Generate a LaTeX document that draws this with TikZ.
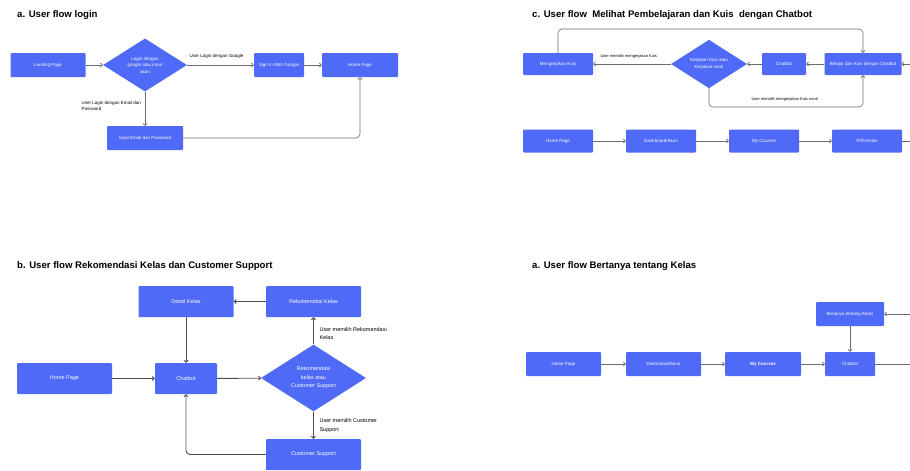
\documentclass[tikz,border=0pt]{standalone}
\usepackage{fontspec}
\setmainfont{Liberation Sans}
\usetikzlibrary{shapes.geometric, arrows.meta}
\definecolor{flowblue}{RGB}{78,106,246}

\begin{document}
\begin{tikzpicture}[x=1pt, y=-1pt,
	box/.style={fill=flowblue, rounded corners=1pt, text=white, inner sep=0pt, align=center, font=\fontsize{4.5}{5.5}\selectfont},
	choice/.style={diamond, fill=flowblue, text=white, inner sep=0pt, align=center, font=\fontsize{4.5}{6.5}\selectfont},
	link/.style={draw=gray!85!black, line width=0.6pt, -{Straight Barb[length=2pt,width=4pt]}},
	boldlink/.style={link, draw=gray!60!black, line width=0.9pt},
	note/.style={anchor=west, align=left, font=\fontsize{4.5}{6}\selectfont},
	heading/.style={anchor=west, inner sep=0pt, font=\bfseries\fontsize{9.6}{11}\selectfont}]
	\useasboundingbox (0,0) rectangle (910,471);

	% a. login
	\node[heading] (titleA) at (17,15) {a. User flow login};
	\node[box, minimum width=75pt, minimum height=24pt] (landing) at (48,65) {Landing Page};
	\node[choice, minimum width=84pt, minimum height=53pt] (login) at (145,65) {Login dengan\\google atau input\\akun};
	\node[box, minimum width=50pt, minimum height=24pt] (google) at (279,65) {Sign In With Google};
	\node[box, minimum width=76pt, minimum height=24pt] (homeA) at (360,65) {Home Page};
	\node[box, minimum width=76pt, minimum height=24pt] (email) at (145,138) {Input Email dan Password};
	\node[note] (noteGoogle) at (186,56) {User Login dengan Google};
	\node[note] (noteEmail) at (78,106) {User Login dengan Email dan\\Password};

	\draw[link] (landing) -- (login);
	\draw[link] (login) -- (google);
	\draw[link] (google) -- (homeA);
	\draw[link] (login) -- (email);
	\draw[link, rounded corners=4pt] (email) -- (360,138) -- (homeA);

	% c. pembelajaran dan kuis
	\node[heading] (titleC) at (532,15) {c. User flow \ Melihat Pembelajaran dan Kuis \ dengan Chatbot};
	\node[box, minimum width=70pt, minimum height=22pt] (quiz) at (558,64) {Mengerjakan Kuis};
	\node[choice, minimum width=76pt, minimum height=47pt] (later) at (709,64) {Kerjakan Kuis atau\\Kerjakan nanti};
	\node[box, minimum width=44pt, minimum height=22pt] (chatC) at (784,64) {Chatbot};
	\node[box, minimum width=77pt, minimum height=22pt] (learn) at (863,64) {Belajar dan Kuis dengan Chatbot};
	\coordinate (inC) at (910,64);
	\node[note, font=\fontsize{4}{5}\selectfont] (noteNow) at (597,56) {User memilih mengerjakan Kuis};
	\node[note, font=\fontsize{4}{5}\selectfont] (noteLater) at (748,99) {User memilih mengerjakan Kuis nanti};

	\draw[link] (inC) -- (learn);
	\draw[link] (learn) -- (chatC);
	\draw[link] (chatC) -- (later);
	\draw[link] (later) -- (quiz);
	\draw[link, rounded corners=4pt] (quiz.north) -- (558,29) -- (863,29) -- (learn.north);
	\draw[link, rounded corners=4pt] (later.south) -- (709,107) -- (863,107) -- (learn.south);

	\node[box, minimum width=70pt, minimum height=23pt] (homeC) at (558,141) {Home Page};
	\node[box, minimum width=70pt, minimum height=23pt] (dashC) at (661,141) {Dashboard/Akun};
	\node[box, minimum width=70pt, minimum height=23pt] (coursesC) at (764,141) {My Courses};
	\node[box, minimum width=70pt, minimum height=23pt] (pickC) at (867,141) {Pilih Kelas};
	\coordinate (outC) at (910,141);

	\draw[link] (homeC) -- (dashC);
	\draw[link] (dashC) -- (coursesC);
	\draw[link] (coursesC) -- (pickC);
	\draw[link, -] (pickC) -- (outC);

	% b. rekomendasi kelas dan customer support
	\node[heading] (titleB) at (17,266) {b. User flow Rekomendasi Kelas dan Customer Support};
	\node[box, font=\fontsize{5.5}{7}\selectfont, minimum width=95pt, minimum height=31pt] (detail) at (186,301.5) {Detail Kelas};
	\node[box, font=\fontsize{5.5}{7}\selectfont, minimum width=95pt, minimum height=31pt] (rekom) at (313.5,301.5) {Rekomendasi Kelas};
	\node[box, font=\fontsize{5.5}{7}\selectfont, minimum width=95pt, minimum height=31pt] (homeB) at (64.5,378.5) {Home Page};
	\node[box, font=\fontsize{5.5}{7}\selectfont, minimum width=62pt, minimum height=31pt] (chatB) at (186,378.5) {Chatbot};
	\node[choice, font=\fontsize{5.5}{8.5}\selectfont, minimum width=105pt, minimum height=66pt] (choiceB) at (313.5,378) {Rekomendasi\\kelas atau\\Customer Support};
	\node[box, font=\fontsize{5.5}{7}\selectfont, minimum width=95pt, minimum height=31pt] (support) at (313.5,454.5) {Customer Support};
	\node[note, font=\fontsize{5.5}{8.5}\selectfont] (noteRekom) at (316,333.5) {User memilih Rekomendasi\\Kelas};
	\node[note, font=\fontsize{5.5}{8.5}\selectfont] (noteSupport) at (316,425.5) {User memilih Customer\\Support};

	\draw[boldlink] (rekom) -- (detail);
	\draw[boldlink] (detail) -- (chatB);
	\draw[boldlink] (homeB) -- (chatB);
	\draw[boldlink] (chatB) -- (choiceB);
	\draw[boldlink] (choiceB) -- (rekom);
	\draw[boldlink] (choiceB) -- (support);
	\draw[boldlink, rounded corners=4pt] (support) -- (186,454.5) -- (chatB);

	% a. bertanya tentang kelas
	\node[heading] (titleD) at (532,266) {a. User flow Bertanya tentang Kelas};
	\node[box, minimum width=75pt, minimum height=24pt] (homeD) at (563.5,364) {Home Page};
	\node[box, minimum width=75pt, minimum height=24pt] (dashD) at (663.5,364) {Dashboard/Akun};
	\node[box, minimum width=76pt, minimum height=24pt, font=\bfseries\fontsize{4.5}{5.5}\selectfont] (coursesD) at (763,364) {My Courses};
	\node[box, minimum width=50pt, minimum height=24pt] (chatD) at (850,364) {Chatbot};
	\node[box, minimum width=68pt, minimum height=24pt] (askD) at (850,314) {Bertanya tentang Kelas};
	\coordinate (inD) at (910,314);
	\coordinate (outD) at (910,364);

	\draw[link] (homeD) -- (dashD);
	\draw[link] (dashD) -- (coursesD);
	\draw[link] (coursesD) -- (chatD);
	\draw[link] (inD) -- (askD);
	\draw[link] (askD) -- (chatD);
	\draw[link, -] (chatD) -- (outD);
\end{tikzpicture}
\end{document}
